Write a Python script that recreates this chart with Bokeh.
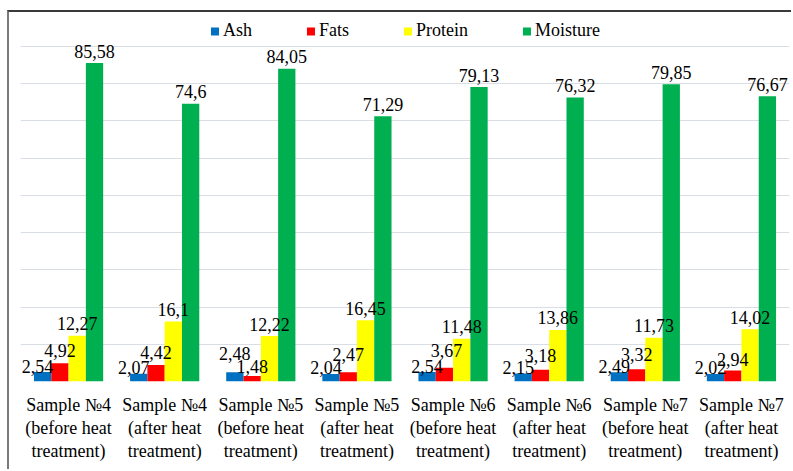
from bokeh.plotting import figure
from bokeh.models import (ColumnDataSource, FactorRange, Range1d, FixedTicker,
                          Legend, LegendItem)
from bokeh.transform import dodge
from bokeh.core.properties import value
from bokeh.embed import file_html
from bokeh.resources import INLINE

# Composition of samples before and after heat treatment, %
samples = [
    "Sample №4\n(before heat\ntreatment)",
    "Sample №4\n(after heat\ntreatment)",
    "Sample №5\n(before heat\ntreatment)",
    "Sample №5\n(after heat\ntreatment)",
    "Sample №6\n(before heat\ntreatment)",
    "Sample №6\n(after heat\ntreatment)",
    "Sample №7\n(before heat\ntreatment)",
    "Sample №7\n(after heat\ntreatment)",
]
ash = [2.54, 2.07, 2.48, 2.04, 2.54, 2.15, 2.49, 2.02]
fats = [4.92, 4.42, 1.48, 2.47, 3.67, 3.18, 3.32, 2.94]
protein = [12.27, 16.1, 12.22, 16.45, 11.48, 13.86, 11.73, 14.02]
moisture = [85.58, 74.6, 84.05, 71.29, 79.13, 76.32, 79.85, 76.67]

series_names = ["Ash", "Fats", "Protein", "Moisture"]
series_values = [ash, fats, protein, moisture]
series_colors = ["#0070C0", "#FF0000", "#FFFF00", "#00B050"]
offsets = [-0.27, -0.09, 0.09, 0.27]
bar_width = 0.18

# label placement: gap (px) between bar top and text baseline, horizontal nudge (px)
label_gap = {"Ash": 6, "Fats": 13, "Protein": 12, "Moisture": 12}
label_dx = {"Ash": -5, "Fats": 0, "Protein": 0, "Moisture": 0}
label_overrides = {
    ("Ash", 2): (0, 19),
    ("Ash", 4): (0, 6),
    ("Fats", 2): (0, 9),
    ("Fats", 3): (0, 18),
    ("Fats", 4): (2, 17),
    ("Fats", 5): (0, 14),
    ("Fats", 6): (0, 15),
    ("Fats", 7): (0, 11),
}

FONT = "Times New Roman, Liberation Serif, serif"

p = figure(
    x_range=FactorRange(*samples, range_padding=0),
    y_range=Range1d(0, 97),
    width=784, height=459,
    min_border_left=11, min_border_right=4,
    min_border_top=8, min_border_bottom=90,
    y_axis_location=None,
    toolbar_location=None,
    output_backend="svg",
)
p.styles = {
    "margin-left": "7px",
    "margin-top": "10px",
    "border-left": "2px solid #7a7a7a",
    "border-top": "2px solid #3a3a3a",
}
p.outline_line_color = None
p.background_fill_color = "white"
p.border_fill_color = "white"

p.xgrid.grid_line_color = None
p.ygrid.ticker = FixedTicker(ticks=list(range(0, 100, 10)))
p.ygrid.grid_line_color = "#d9dee6"
p.ygrid.grid_line_width = 1

ax = p.xaxis[0]
ax.axis_line_color = None
ax.major_tick_line_color = None
ax.minor_tick_line_color = None
ax.major_tick_out = 0
ax.major_label_standoff = 13
ax.major_label_text_font = FONT
ax.major_label_text_font_size = "18px"
ax.major_label_text_color = "#000000"
ax.major_label_text_line_height = 1.15

items = []
label_sources = []
for name, vals, color, off in zip(series_names, series_values,
                                  series_colors, offsets):
    dxs, gaps = [], []
    for k in range(len(samples)):
        dx, gap = label_overrides.get((name, k), (label_dx[name], label_gap[name]))
        dxs.append(dx)
        gaps.append(-gap)
    src = ColumnDataSource(dict(
        sample=samples,
        val=vals,
        txt=[str(v).replace(".", ",") for v in vals],
        dx=dxs,
        dy=gaps,
    ))
    xs = dodge("sample", off, range=p.x_range)
    r = p.vbar(x=xs, top="val", width=bar_width, source=src,
               fill_color=color, line_color=None)
    items.append(LegendItem(label=name, renderers=[r]))
    label_sources.append((xs, src))

# value labels drawn above all bars
for xs, src in label_sources:
    p.text(x=xs, y="val", text="txt", source=src,
           x_offset="dx", y_offset="dy",
           text_align="center", text_baseline="alphabetic",
           text_font=value(FONT), text_font_size="18px", text_color="#000000")

legend = Legend(
    items=items,
    orientation="horizontal",
    location="top_center",
    glyph_width=10, glyph_height=10,
    label_standoff=4, spacing=53,
    padding=2, margin=0,
    label_text_font=FONT, label_text_font_size="18px",
    label_text_color="#000000",
    border_line_color=None,
    background_fill_alpha=0,
)
p.add_layout(legend, "center")

open("out.html", "w").write(file_html(p, INLINE))
